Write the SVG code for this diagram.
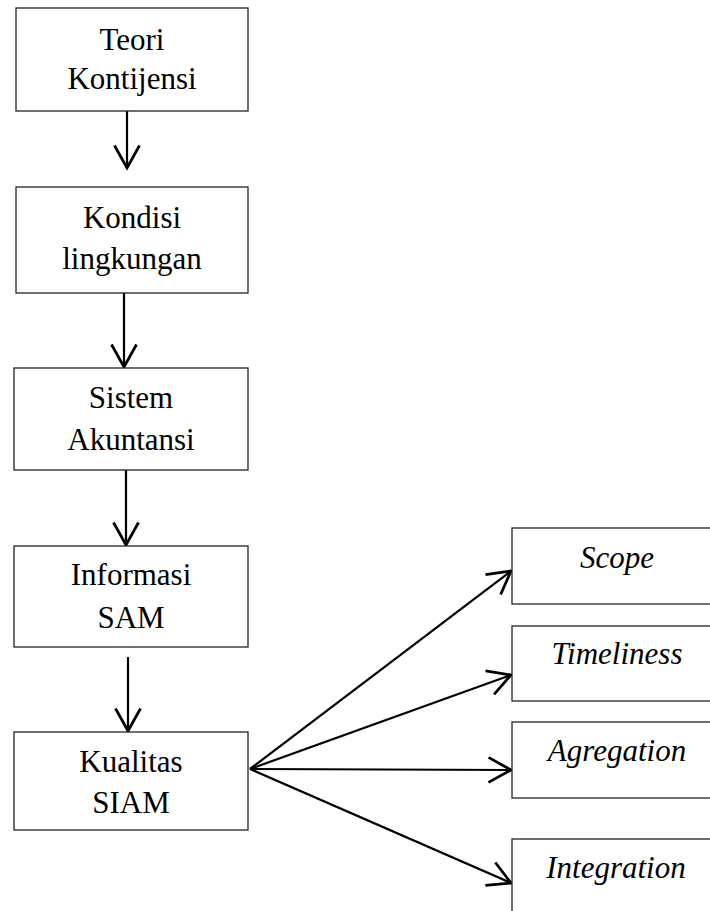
<svg xmlns="http://www.w3.org/2000/svg" width="710" height="911" viewBox="0 0 710 911">
<defs>
<style>
.box{fill:#fff;stroke:#222;stroke-width:1.3}
.t{font-family:"Liberation Serif","Times New Roman",serif;font-size:31px;fill:#000;text-anchor:middle}
.i{font-style:italic}
.c{stroke:#000;stroke-width:2.2;fill:none;marker-end:url(#ah)}
</style>
<marker id="ah" markerUnits="userSpaceOnUse" markerWidth="30" markerHeight="30" viewBox="-20 -12 22 24" refX="0" refY="0" orient="auto" overflow="visible">
<path d="M-18,-10 L0,0 L-18,10" fill="none" stroke="#000" stroke-width="2.2"/>
</marker>
</defs>
<rect width="710" height="911" fill="#fff"/>
<g id="connectors">
<line class="c" x1="127" y1="111" x2="127" y2="168"/>
<line class="c" x1="124" y1="293" x2="124" y2="367"/>
<line class="c" x1="126" y1="470" x2="126" y2="545"/>
<line class="c" x1="128" y1="657" x2="128" y2="731"/>
<line class="c" x1="250" y1="769" x2="511" y2="571"/>
<line class="c" x1="250" y1="769" x2="511" y2="675"/>
<line class="c" x1="250" y1="769" x2="511" y2="770"/>
<line class="c" x1="250" y1="769" x2="511" y2="883"/>
</g>
<g id="teori">
<rect class="box" x="16" y="8" width="232" height="103"/>
<text class="t" x="132" y="50">Teori</text>
<text class="t" x="132" y="89">Kontijensi</text>
</g>
<g id="kondisi">
<rect class="box" x="16" y="187" width="232" height="106"/>
<text class="t" x="132" y="228">Kondisi</text>
<text class="t" x="132" y="269">lingkungan</text>
</g>
<g id="sistem">
<rect class="box" x="14" y="368" width="234" height="102"/>
<text class="t" x="131" y="408">Sistem</text>
<text class="t" x="131" y="450">Akuntansi</text>
</g>
<g id="informasi">
<rect class="box" x="14" y="546" width="234" height="101"/>
<text class="t" x="131" y="585">Informasi</text>
<text class="t" x="131" y="628">SAM</text>
</g>
<g id="kualitas">
<rect class="box" x="14" y="732" width="234" height="98"/>
<text class="t" x="131" y="772">Kualitas</text>
<text class="t" x="131" y="813">SIAM</text>
</g>
<g id="scope">
<rect class="box" x="512" y="528" width="210" height="76"/>
<text class="t i" x="617" y="568">Scope</text>
</g>
<g id="timeliness">
<rect class="box" x="512" y="626" width="210" height="75"/>
<text class="t i" x="617" y="664">Timeliness</text>
</g>
<g id="agregation">
<rect class="box" x="512" y="722" width="210" height="76"/>
<text class="t i" x="617" y="761">Agregation</text>
</g>
<g id="integration">
<rect class="box" x="512" y="839" width="210" height="80"/>
<text class="t i" x="616" y="878">Integration</text>
</g>
</svg>
